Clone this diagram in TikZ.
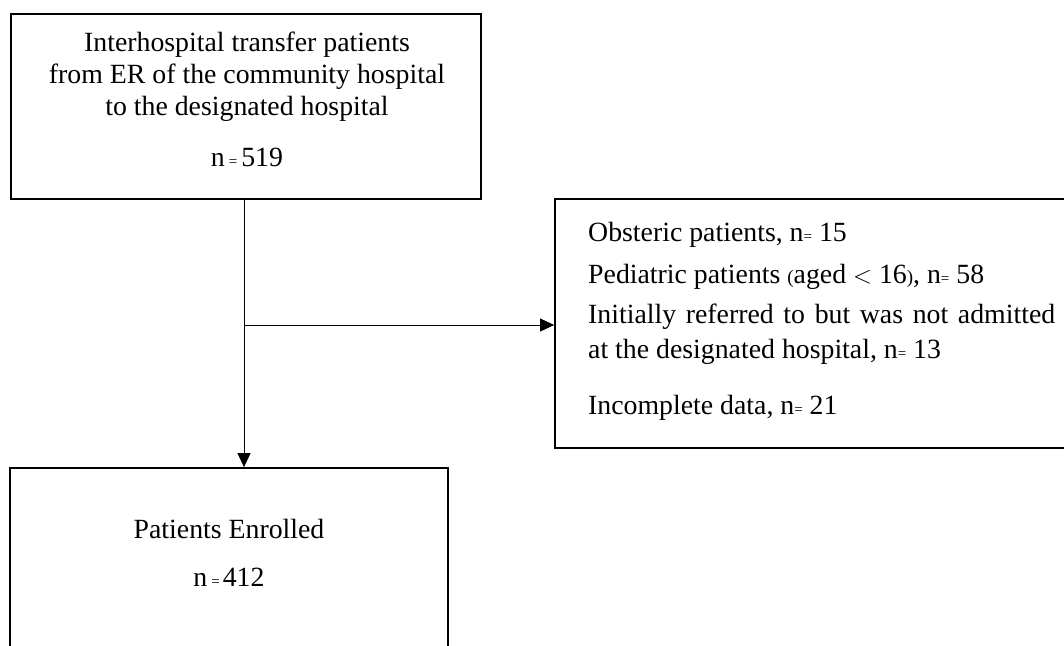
\documentclass[tikz,border=0pt]{standalone}
\usepackage{fontspec}
\setmainfont{Liberation Serif}
\usetikzlibrary{arrows.meta}
\newcommand{\smeq}{{\fontsize{15}{15}\selectfont=}}
\newcommand{\smpar}[1]{{\fontsize{19}{19}\selectfont #1}}
\begin{document}
\begin{tikzpicture}[x=1pt,y=-1pt,
  box/.style={draw, line width=1.8pt, inner sep=0pt},
  txt/.style={inner sep=0pt, anchor=base, font=\fontsize{27.8}{32}\selectfont},
  ltxt/.style={txt, anchor=base west},
  conn/.style={line width=0.8pt, -{Triangle[length=14pt,width=13pt]}}]
\useasboundingbox (0,0) rectangle (1064,645);
\begin{scope}
\clip (0,0) rectangle (1064,645);
% boxes
\node[box, minimum width=470, minimum height=185] (top) at (246,106.5) {};
\node[box, minimum width=438, minimum height=200] (bot) at (229,568) {};
\node[box, minimum width=520, minimum height=249] (rt) at (815,323.5) {};
\end{scope}
% top text
\node[txt] (t1) at (247,51) {Interhospital transfer patients};
\node[txt] (t2) at (247,83) {from ER of the community hospital};
\node[txt] (t3) at (247,115) {to the designated hospital};
\node[txt] (t4) at (247,166) {n\hspace{4pt}\smeq\hspace{4pt}519};
% bottom text
\node[txt] (b1) at (229,538) {Patients Enrolled};
\node[txt] (b2) at (229,586) {n\hspace{4pt}\smeq\hspace{3pt}412};
% right text
\node[ltxt] (r1) at (588,241) {Obsteric patients, n\smeq\ 15};
\node[ltxt] (r2) at (588,283) {Pediatric patients \smpar{(}aged $<$ 16\smpar{)}, n\smeq\ 58};
\node[ltxt] (r3) at (588,323) {\makebox[467pt][s]{Initially referred to but was not admitted}};
\node[ltxt] (r4) at (588,358) {at the designated hospital, n\smeq\ 13};
\node[ltxt] (r5) at (588,414) {Incomplete data, n\smeq\ 21};
% connectors
\coordinate (split) at (244,325);
\draw[line width=0.8pt] (top.south -| split) -- (split);
\draw[conn] (split) -- (bot.north -| split);
\draw[conn] (split) -- (rt.west |- split);
\end{tikzpicture}
\end{document}
